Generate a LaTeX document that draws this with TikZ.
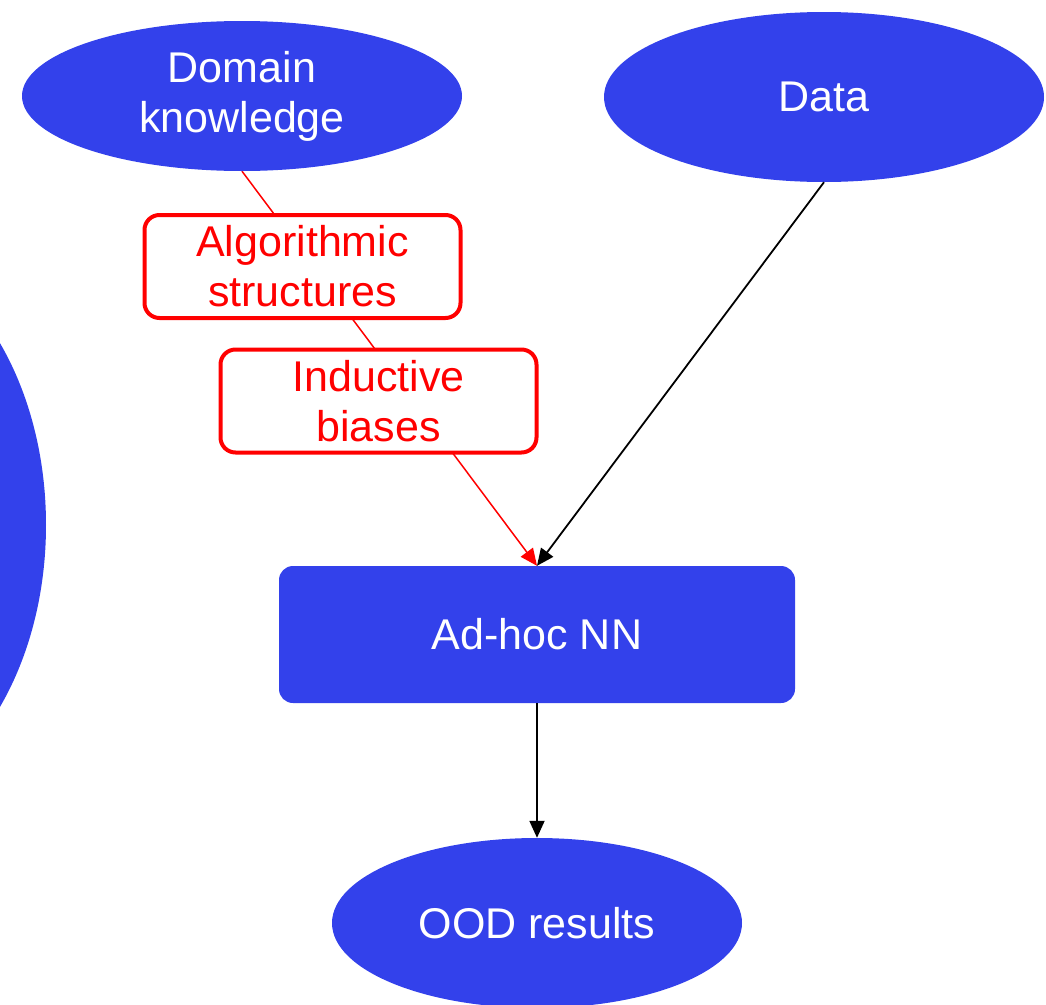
\documentclass[tikz,border=0pt]{standalone}
\usepackage{fontspec}
\setmainfont{Liberation Sans}
\usetikzlibrary{shapes.geometric,arrows.meta,backgrounds}
\definecolor{nodeblue}{RGB}{51,65,235}
\definecolor{hintred}{RGB}{255,0,0}
\tikzset{
  x=1pt, y=-1pt,
  every node/.style={font=\fontsize{43}{50}\selectfont, align=center, inner sep=0pt},
  blueell/.style={ellipse, fill=nodeblue, text=white},
  bluebox/.style={rectangle, rounded corners=14pt, fill=nodeblue, text=white,
    minimum width=516pt, minimum height=137pt},
  redbox/.style={rectangle, rounded corners=15pt, draw=hintred, line width=4pt,
    fill=white, text=hintred, minimum width=316pt, minimum height=103pt},
  tip/.style={-{Triangle[length=17pt,width=15pt]}},
}
\begin{document}
\begin{tikzpicture}
\useasboundingbox (0,0) rectangle (1046,1004);
\clip (0,0) rectangle (1046,1004);
% partly hidden ellipse on the left edge
\fill[nodeblue] (-154,525) ellipse [x radius=200, y radius=285];
% main nodes
\node[blueell, minimum width=440pt, minimum height=150pt] (dk) at (242,96) {Domain\\knowledge};
\node[blueell, minimum width=440pt, minimum height=170pt] (data) at (824,97) {Data};
\node[bluebox] (nn) at (537,634.5) {Ad-hoc NN};
\node[blueell, minimum width=410pt, minimum height=170pt] (ood) at (537,923) {OOD results};
\node[redbox] (alg) at (302.5,266.5) {Algorithmic\\structures};
\node[redbox] (ind) at (378.5,401) {Inductive\\biases};
% connectors behind the labels
\begin{scope}[on background layer]
  \draw[tip, hintred, line width=1.5pt] (dk.south) -- (nn.north);
\end{scope}
\draw[tip, black, line width=1.8pt] (data.south) -- (nn.north);
\draw[tip, black, line width=1.8pt] (nn.south) -- (ood.north);
\end{tikzpicture}
\end{document}
